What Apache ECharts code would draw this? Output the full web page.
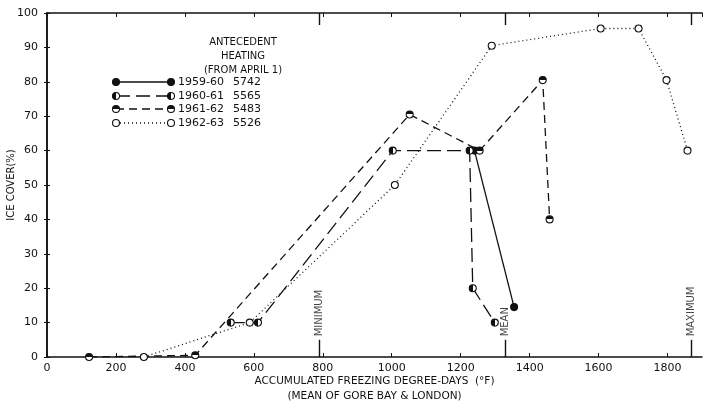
<!DOCTYPE html>
<html>
<head>
<meta charset="utf-8">
<script src="https://cdn.jsdelivr.net/npm/echarts@6/dist/echarts.min.js"></script>
<style>
  html, body { margin: 0; padding: 0; background: #fff; }
  #chart { width: 703px; height: 407px; }
</style>
</head>
<body>
<div id="chart"></div>
<script>
// [freezing degree-days, ice cover %]
const s1959 = [[1240, 60], [1355, 14.5]]
const s1960 = [[533, 10], [612, 10], [1003, 60], [1226, 60], [1235, 20], [1299, 10]]
const s1961 = [[122, 0], [430, 0.5], [1052, 70.5], [1255, 60], [1438, 80.5], [1458, 40]]
const s1962 = [[281, 0], [588, 10], [1009, 50], [1290, 90.5], [1606, 95.5], [1716, 95.5], [1797, 80.5], [1858, 60]]

const seasons = ['1959-60', '1960-61', '1961-62', '1962-63']
const heating = ['5742', '5565', '5483', '5526']

// reference marks on the x axis
const refNames = ['MINIMUM', 'MEAN', 'MAXIMUM']
const refValues = [790, 1330, 1868]

const ink = '#111'
const font = 'DejaVu Sans'

const half = (dir) => ({
  type: 'linear',
  x: 0, y: 0,
  x2: dir === 'h' ? 1 : 0,
  y2: dir === 'v' ? 1 : 0,
  colorStops: [
    { offset: 0, color: ink }, { offset: 0.5, color: ink },
    { offset: 0.5, color: '#fff' }, { offset: 1, color: '#fff' }
  ]
})

const markerFill = [ink, half('h'), half('v'), '#fff']
const dashes = ['solid', [14, 6], [8, 5], [1, 3]]
const seriesData = [s1959, s1960, s1961, s1962]

const chart = echarts.init(document.getElementById('chart'))

const lineSeries = seriesData.map((d, i) => ({
  name: seasons[i],
  type: 'line',
  data: d,
  symbol: 'circle',
  symbolSize: 7,
  z: 3 + i,
  lineStyle: { color: ink, width: 1.3, type: dashes[i] },
  itemStyle: { color: markerFill[i], borderColor: ink, borderWidth: 1.1 }
}))

const refTicks = []
refValues.forEach(v => {
  refTicks.push([{ coord: [v, 0] }, { coord: [v, 5] }])
  refTicks.push([{ coord: [v, 100] }, { coord: [v, 96.5] }])
})

const refSeries = {
  type: 'scatter',
  data: refValues.map((v, i) => ({ value: [v, 6], name: refNames[i] })),
  symbolSize: 0,
  silent: true,
  label: {
    show: true,
    formatter: p => p.name,
    position: [0, 0],
    rotate: 90,
    align: 'left',
    verticalAlign: 'middle',
    color: ink,
    fontFamily: font,
    fontSize: 10
  },
  markLine: {
    silent: true,
    symbol: 'none',
    label: { show: false },
    lineStyle: { color: ink, width: 1.4, type: 'solid' },
    data: refTicks
  }
}

// legend drawn by hand: symbols at both ends of the line
const legendX0 = 116, legendX1 = 171, legendY = [82, 96, 109, 123]
const legendGraphics = []
legendY.forEach((y, i) => {
  legendGraphics.push({
    type: 'line',
    shape: { x1: legendX0, y1: y, x2: legendX1, y2: y },
    style: { stroke: ink, lineWidth: 1.3, lineDash: dashes[i] === 'solid' ? null : dashes[i] }
  })
  ;[legendX0, legendX1].forEach(x => {
    legendGraphics.push({
      type: 'circle',
      shape: { cx: x, cy: y, r: 3.5 },
      style: { fill: markerFill[i], stroke: ink, lineWidth: 1.1 }
    })
  })
  legendGraphics.push({
    type: 'text', x: 178, y: y,
    style: { text: seasons[i], fill: ink, font: '11px ' + font, verticalAlign: 'middle' }
  })
  legendGraphics.push({
    type: 'text', x: 233, y: y,
    style: { text: heating[i], fill: ink, font: '11px ' + font, verticalAlign: 'middle' }
  })
})
legendGraphics.push({
  type: 'text', x: 243, y: 56,
  style: {
    text: 'ANTECEDENT\nHEATING\n(FROM APRIL 1)',
    fill: ink, font: '10px ' + font, align: 'center', verticalAlign: 'middle', lineHeight: 14
  }
})

const option = {
  backgroundColor: '#fff',
  animation: false,
  textStyle: { fontFamily: font },
  grid: { left: 47, right: 1, top: 13, bottom: 50, containLabel: false, outerBoundsMode: 'none' },
  xAxis: [
    {
      type: 'value', min: 0, max: 1900, interval: 200,
      name: 'ACCUMULATED FREEZING DEGREE-DAYS  (°F)\n(MEAN OF GORE BAY & LONDON)',
      nameLocation: 'middle', nameGap: 17, nameMoveOverlap: false,
      nameTextStyle: { color: ink, fontSize: 10.5, lineHeight: 15, fontFamily: font },
      axisLine: { lineStyle: { color: ink, width: 1.5 } },
      axisTick: { inside: true, length: 4, lineStyle: { color: ink } },
      axisLabel: { color: ink, fontSize: 11, margin: 6, showMaxLabel: false, fontFamily: font, formatter: v => String(v) },
      splitLine: { show: false }
    },
    {
      type: 'value', min: 0, max: 1900, interval: 200, position: 'top',
      axisLine: { onZero: false, lineStyle: { color: ink, width: 1.5 } },
      axisTick: { inside: true, length: 4, lineStyle: { color: ink } },
      axisLabel: { show: false },
      splitLine: { show: false }
    }
  ],
  yAxis: [
    {
      type: 'value', min: 0, max: 100, interval: 10,
      name: 'ICE COVER(%)', nameLocation: 'middle', nameGap: 31, nameRotate: 90, nameMoveOverlap: false,
      nameTextStyle: { color: ink, fontSize: 10, fontFamily: font },
      axisLine: { show: true, lineStyle: { color: ink, width: 1.5 } },
      axisTick: { show: true, inside: true, length: 3, lineStyle: { color: ink } },
      axisLabel: { color: ink, fontSize: 11, margin: 9, fontFamily: font },
      splitLine: { show: false }
    },
    {
      type: 'value', min: 0, max: 100, interval: 10, position: 'right',
      axisLine: { show: true, lineStyle: { color: ink, width: 1.5 } },
      axisTick: { show: true, inside: true, length: 3, lineStyle: { color: ink } },
      axisLabel: { show: false },
      splitLine: { show: false }
    }
  ],
  graphic: legendGraphics,
  series: [...lineSeries, refSeries]
}

option && chart.setOption(option)
</script>
</body>
</html>
